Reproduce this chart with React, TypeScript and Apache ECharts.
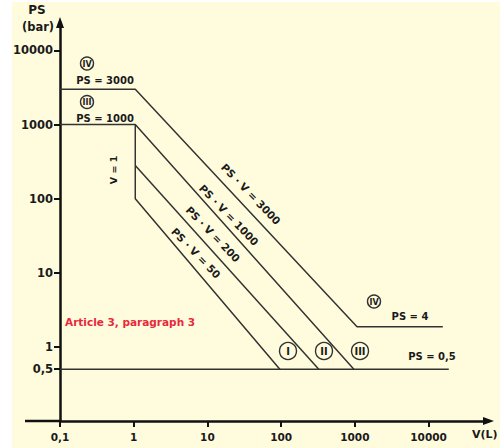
import React, { useEffect, useRef } from 'react';
import * as echarts from 'echarts';

// Axis ticks
const xTicks = [0.1, 1, 10, 100, 1000, 10000];
const yTicks = [0.5, 1, 10, 100, 1000, 10000];

// Boundary lines (V in litres, PS in bar)
const line3000V = [0.1, 1.05, 1070, 15600];
const line3000PS = [3000, 3000, 1.87, 1.87];

const line1000V = [0.1, 1.05, 970];
const line1000PS = [1000, 1000, 0.5];

const line200V = [1.05, 324];
const line200PS = [280, 0.5];

const line50V = [1.05, 1.05, 96];
const line50PS = [1000, 100, 0.5];

const line05V = [0.1, 18800];
const line05PS = [0.5, 0.5];

const pairs = (xs: number[], ys: number[]) => xs.map((x, i) => [x, ys[i]]);

const LINE = '#333333';
const TXT = '#1a1a1a';
const FONT = '"DejaVu Sans", "Liberation Sans", sans-serif';

const fmt = (v: number) => (v < 1 ? String(v).replace('.', ',') : String(v));

function txt(text: string, x: number, y: number, size: number, opts: any = {}) {
  return {
    type: 'text',
    x,
    y,
    rotation: opts.rotation || 0,
    silent: true,
    z: 10,
    style: {
      text,
      x: 0,
      y: 0,
      fill: opts.fill || TXT,
      font: `bold ${size}px ${FONT}`,
      align: opts.align || 'center',
      verticalAlign: 'middle',
    },
  };
}

function circ(label: string, cx: number, cy: number, r: number, size: number) {
  return [
    {
      type: 'circle',
      silent: true,
      z: 10,
      shape: { cx, cy, r },
      style: { fill: 'none', stroke: LINE, lineWidth: 1.4 },
    },
    txt(label, cx, cy + 0.5, size),
  ];
}

export default function App() {
  const ref = useRef<HTMLDivElement>(null);

  useEffect(() => {
    const chart = echarts.init(ref.current!, null, { renderer: 'svg' });
    const seriesStyle = {
      type: 'line',
      showSymbol: false,
      symbol: 'none',
      silent: true,
      animation: false,
      lineStyle: { color: LINE, width: 1.5 },
      z: 3,
    };
    chart.setOption({
      animation: false,
      backgroundColor: '#FFFCDE',
      grid: { left: 60, right: 11.5, top: 22.5, bottom: 27, containLabel: false },
      xAxis: {
        type: 'log',
        logBase: 10,
        min: 0.1,
        max: 65000,
        axisLine: {
          show: true,
          onZero: false,
          symbol: ['none', 'triangle'],
          symbolSize: [8, 11],
          lineStyle: { color: '#111', width: 2.5 },
        },
        axisTick: {
          show: true,
          inside: false,
          length: 6,
          customValues: xTicks,
          lineStyle: { color: '#111', width: 2 },
        },
        axisLabel: {
          show: true,
          customValues: xTicks,
          margin: 10,
          formatter: fmt,
          color: TXT,
          fontWeight: 'bold',
          fontSize: 10.5,
          fontFamily: FONT,
        },
        splitLine: { show: false },
        minorTick: { show: false },
      },
      yAxis: {
        type: 'log',
        logBase: 10,
        min: 0.1,
        max: 23800,
        axisLine: {
          show: true,
          onZero: false,
          symbol: ['none', 'triangle'],
          symbolSize: [8, 11],
          lineStyle: { color: '#111', width: 2.5 },
        },
        axisTick: {
          show: true,
          inside: false,
          length: 6,
          customValues: yTicks,
          lineStyle: { color: '#111', width: 2 },
        },
        axisLabel: {
          show: true,
          customValues: yTicks,
          margin: 7,
          formatter: fmt,
          color: TXT,
          fontWeight: 'bold',
          fontSize: 11.5,
          fontFamily: FONT,
        },
        splitLine: { show: false },
        minorTick: { show: false },
      },
      series: [
        { ...seriesStyle, name: 'PS=3000', data: pairs(line3000V, line3000PS) },
        { ...seriesStyle, name: 'PS=1000', data: pairs(line1000V, line1000PS) },
        { ...seriesStyle, name: 'PS·V=200', data: pairs(line200V, line200PS) },
        { ...seriesStyle, name: 'PS·V=50', data: pairs(line50V, line50PS) },
        { ...seriesStyle, name: 'PS=0,5', data: pairs(line05V, line05PS) },
      ],
      graphic: [
        // white page margins around the scanned figure
        { type: 'rect', silent: true, z: 20, shape: { x: 0, y: 0, width: 12, height: 448 }, style: { fill: '#ffffff' } },
        { type: 'rect', silent: true, z: 20, shape: { x: 0, y: 0, width: 500, height: 2 }, style: { fill: '#ffffff' } },
        // x axis extends left of the y axis
        { type: 'line', silent: true, z: 5, shape: { x1: 25, y1: 421, x2: 60, y2: 421 }, style: { stroke: '#111', lineWidth: 2.5 } },
        txt('PS', 37, 10, 12),
        txt('(bar)', 38, 27, 11.5),
        txt('V(L)', 472, 434, 11, { align: 'left' }),
        txt('PS = 3000', 105, 80, 10),
        txt('PS = 1000', 105, 118, 10),
        txt('PS = 4', 410, 316.5, 10),
        txt('PS = 0,5', 432, 356, 10),
        txt('V = 1', 113, 170, 9.5, { rotation: Math.PI / 2 }),
        txt('PS · V = 3000', 251, 194, 10.5, { rotation: (-46 * Math.PI) / 180 }),
        txt('PS · V = 1000', 229, 215, 10.5, { rotation: (-46 * Math.PI) / 180 }),
        txt('PS · V = 200', 213, 234, 10.5, { rotation: (-46 * Math.PI) / 180 }),
        txt('PS · V = 50', 196, 253, 10.5, { rotation: (-46 * Math.PI) / 180 }),
        txt('Article 3, paragraph 3', 65, 322, 10.5, { align: 'left', fill: '#E8283C' }),
        ...circ('IV', 87, 63.5, 6.5, 8),
        ...circ('III', 87, 102, 6.5, 8),
        ...circ('IV', 374, 301.5, 6.5, 8),
        ...circ('I', 288, 351, 8.5, 10),
        ...circ('II', 324, 351, 8.5, 10),
        ...circ('III', 360, 351, 8.5, 10),
      ],
    });
    return () => chart.dispose();
  }, []);

  return (
    <div
      ref={ref}
      style={{ position: 'fixed', left: 0, top: 0, width: 500, height: 448 }}
    />
  );
}
